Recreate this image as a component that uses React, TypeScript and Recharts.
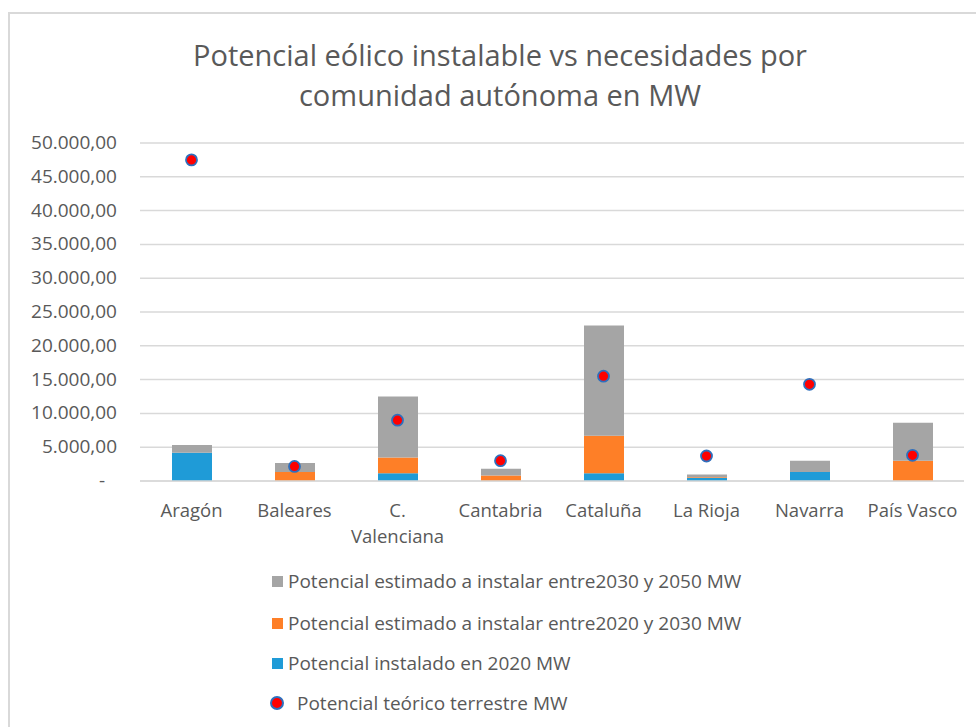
import { ComposedChart, Bar, Line, XAxis, YAxis, CartesianGrid } from "recharts";

const regions = ["Aragón", "Baleares", "C. Valenciana", "Cantabria", "Cataluña", "La Rioja", "Navarra", "País Vasco"];
const installed2020 = [4170, 0, 1130, 0, 1130, 440, 1320, 0];
const plan2020to2030 = [0, 1320, 2350, 830, 5580, 100, 0, 3000];
const plan2030to2050 = [1170, 1330, 9020, 980, 16290, 440, 1680, 5600];
const theoretical = [47500, 2150, 9000, 3000, 15500, 3700, 14300, 3800];
const yTicks = [0, 5000, 10000, 15000, 20000, 25000, 30000, 35000, 40000, 45000, 50000];

const data = regions.map((name, i) => ({
  name,
  installed: installed2020[i],
  mid: plan2020to2030[i],
  late: plan2030to2050[i],
  theory: theoretical[i],
}));

const FONT = "'Open Sans', sans-serif";
const TEXT = "#595959";
const BLUE = "#1f9bd7";
const ORANGE = "#fe7f27";
const GREY = "#a5a5a5";

const fmt = (v: number) => {
  const s = Math.round(v).toString().replace(/\B(?=(\d{3})+(?!\d))/g, ".");
  return `${s},00`;
};

function YTick(props: any) {
  const { x, y, payload } = props;
  const zero = payload.value === 0;
  return (
    <text x={zero ? x - 12 : x} y={y} dy={6} textAnchor="end" fontSize={19} fontFamily={FONT} fill={TEXT}>
      {zero ? "-" : fmt(payload.value)}
    </text>
  );
}

function XTick(props: any) {
  const { x, y, payload } = props;
  const label: string = payload.value;
  const lines = label.length > 11 ? [label.slice(0, label.indexOf(" ")), label.slice(label.indexOf(" ") + 1)] : [label];
  return (
    <text x={x} y={y} textAnchor="middle" fontSize={18.5} fontFamily={FONT} fill={TEXT}>
      {lines.map((l, i) => (
        <tspan key={i} x={x} dy={i === 0 ? 28 : 26}>
          {l}
        </tspan>
      ))}
    </text>
  );
}

function Dot(props: any) {
  const { cx, cy } = props;
  if (cx == null || cy == null) return null;
  return <circle cx={cx} cy={cy} r={5.5} fill="#ff0000" stroke="#2e6fbd" strokeWidth={1.8} />;
}

const legendItems = [
  { label: "Potencial estimado a instalar entre2030 y 2050 MW", color: GREY, dot: false },
  { label: "Potencial estimado a instalar entre2020 y 2030 MW", color: ORANGE, dot: false },
  { label: "Potencial instalado en 2020 MW", color: BLUE, dot: false },
  { label: "Potencial teórico terrestre MW", color: "#ff0000", dot: true },
];
const legendRows = [581, 623, 663, 703];

export default function App() {
  return (
    <div style={{ position: "absolute", left: 0, top: 0, width: 976, height: 727, background: "#fff", overflow: "hidden", fontFamily: FONT }}>
      <div
        style={{
          position: "absolute",
          left: 8,
          top: 12,
          width: 967,
          height: 714,
          borderLeft: "2px solid #d9d9d9",
          borderTop: "2px solid #d9d9d9",
        }}
      />
      <div
        style={{
          position: "absolute",
          left: 24,
          top: 35,
          width: 952,
          textAlign: "center",
          fontSize: 29,
          lineHeight: "40px",
          color: TEXT,
        }}
      >
        Potencial eólico instalable vs necesidades por
        <br />
        comunidad autónoma en MW
      </div>
      <div style={{ position: "absolute", left: 0, top: 0 }}>
        <ComposedChart width={976} height={560} data={data} margin={{ top: 143, right: 12, left: 0, bottom: 0 }} barCategoryGap={0}>
          <CartesianGrid vertical={false} stroke="#d9d9d9" strokeWidth={1.5} />
          <XAxis
            dataKey="name"
            height={79}
            tick={<XTick />}
            tickLine={false}
            axisLine={{ stroke: "#d9d9d9", strokeWidth: 1.5 }}
            interval={0}
          />
          <YAxis
            width={140}
            domain={[0, 50000]}
            ticks={yTicks}
            tick={<YTick />}
            tickLine={false}
            tickSize={0}
            tickMargin={23}
            axisLine={false}
            interval={0}
          />
          <Bar dataKey="installed" stackId="a" fill={BLUE} barSize={40} isAnimationActive={false} />
          <Bar dataKey="mid" stackId="a" fill={ORANGE} barSize={40} isAnimationActive={false} />
          <Bar dataKey="late" stackId="a" fill={GREY} barSize={40} isAnimationActive={false} />
          <Line
            dataKey="theory"
            stroke="transparent"
            strokeWidth={0}
            dot={<Dot />}
            activeDot={false}
            isAnimationActive={false}
          />
        </ComposedChart>
      </div>
      {legendItems.map((item, i) => (
        <div
          key={item.label}
          style={{
            position: "absolute",
            left: 270,
            top: legendRows[i] - 14,
            height: 28,
            display: "flex",
            alignItems: "center",
            fontSize: 19,
            color: TEXT,
            whiteSpace: "nowrap",
          }}
        >
          {item.dot ? (
            <span
              style={{
                display: "inline-block",
                width: 10,
                height: 10,
                borderRadius: "50%",
                background: "#ff0000",
                border: "2px solid #2e6fbd",
                marginLeft: 0,
                marginRight: 13,
              }}
            />
          ) : (
            <span style={{ display: "inline-block", width: 11, height: 11, background: item.color, marginLeft: 2, marginRight: 5 }} />
          )}
          {item.label}
        </div>
      ))}
    </div>
  );
}
